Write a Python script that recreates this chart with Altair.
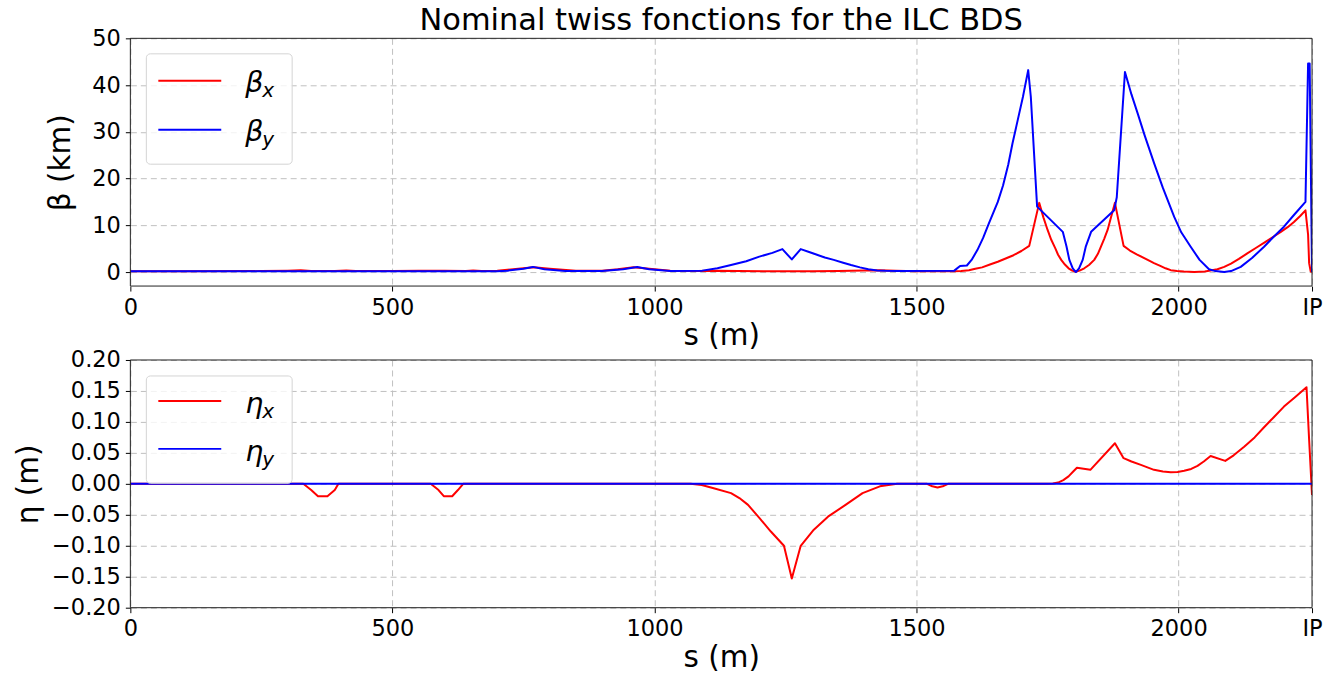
import altair as alt
import pandas as pd

FONT = "DejaVu Sans"
RED = "#ff0000"
BLUE = "#0000ff"
S_IP = 2254.5  # interaction point, end of the beam delivery system (m)

# Horizontal beta function (km) along s (m)
betx_s = [0, 100, 250, 300, 325, 345, 390, 412, 430, 500, 550, 600, 640, 654, 670,
          700, 740, 770, 800, 850, 900, 930, 960, 990, 1030, 1080, 1120, 1160, 1250,
          1300, 1350, 1400, 1430, 1460, 1500, 1572, 1585, 1600, 1612, 1625, 1640, 1655,
          1670, 1685, 1700, 1715, 1734, 1742, 1750, 1757, 1765, 1770, 1776, 1783, 1790,
          1797, 1804, 1811, 1820, 1829, 1839, 1846, 1852, 1858, 1864.5, 1871, 1878.5,
          1895, 1907, 1920, 1941, 1953, 1965, 1975, 1985, 1997, 2010, 2030, 2050, 2074,
          2087, 2100, 2115, 2131, 2148, 2165, 2180, 2195, 2208, 2220, 2232, 2242, 2247,
          2249, 2252, 2254.5]
betx_v = [0.15, 0.15, 0.2, 0.3, 0.4, 0.2, 0.2, 0.35, 0.2, 0.2, 0.3, 0.25, 0.2, 0.35, 0.2,
          0.3, 0.7, 1.0, 0.7, 0.25, 0.3, 0.6, 1.0, 0.7, 0.3, 0.2, 0.3, 0.2, 0.15,
          0.15, 0.2, 0.35, 0.4, 0.3, 0.15, 0.15, 0.2, 0.4, 0.7, 1.0, 1.6, 2.2,
          2.9, 3.6, 4.5, 5.6, 14.8, 11.7, 9.0, 6.9, 5.0, 3.7, 2.6, 1.6, 0.8,
          0.3, 0.05, 0.3, 0.8, 1.5, 2.6, 3.9, 5.5, 7.1, 9.0, 11.7, 14.8,
          5.6, 4.6, 3.8, 2.6, 1.9, 1.3, 0.8, 0.4, 0.2, 0.1, 0.0, 0.1, 0.6,
          1.1, 1.8, 2.8, 4.0, 5.2, 6.4, 7.5, 8.6, 9.6, 10.7, 12.0, 13.2, 8.0,
          1.9, 0.1, 0.05]

# Vertical beta function (km) along s (m)
bety_s = [0, 700, 720, 750, 768, 790, 830, 900, 940, 967, 990, 1030, 1091, 1120, 1146,
          1175, 1200, 1225, 1244, 1262, 1279, 1295, 1310, 1325, 1342, 1360, 1375, 1392,
          1408, 1425, 1440, 1463, 1572, 1583, 1596, 1605, 1616, 1627, 1638, 1655, 1665,
          1675, 1683, 1693, 1703, 1713, 1718, 1730, 1779, 1786, 1791.5, 1798, 1804, 1810,
          1817, 1823, 1833, 1877, 1882, 1897.6, 1910, 1922, 1935, 1953.5, 1970, 1991.6,
          2005, 2023, 2040, 2058, 2070, 2087, 2100, 2118.5, 2140, 2163, 2180, 2201, 2220,
          2242, 2247, 2250, 2254.5]
bety_v = [0.15, 0.15, 0.3, 0.7, 1.1, 0.6, 0.2, 0.2, 0.6, 1.1, 0.6, 0.2, 0.3, 0.8, 1.5,
          2.3, 3.3, 4.1, 4.9, 2.7, 4.9, 4.3, 3.7, 3.1, 2.6, 2.0, 1.5, 1.0,
          0.6, 0.35, 0.25, 0.2, 0.3, 1.3, 1.4, 2.6, 4.7, 7.3, 10.4, 15.0, 18.5,
          23.0, 27.5, 32.5, 37.5, 43.2, 37.5, 14.0, 8.6, 5.5, 2.6, 0.8, 0.0, 0.8,
          2.6, 5.5, 8.6, 13.2, 16.0, 42.8, 38.0, 33.9, 29.3, 23.2, 18.0, 11.8,
          8.5, 5.4, 2.6, 0.6, 0.2, 0.0, 0.2, 1.1, 3.0, 5.4, 7.4, 9.7, 12.2,
          15.0, 44.6, 44.6, 0.0]

# Horizontal dispersion (m) along s (m)
etax_s = [0, 330, 345, 358, 376, 390, 397, 573, 588, 598, 614, 625, 635, 1069, 1090,
          1113, 1146, 1162, 1178.5, 1200, 1222, 1247, 1262, 1279, 1304, 1331, 1364.5,
          1397, 1430, 1463, 1520, 1530, 1540, 1550, 1560, 1750, 1760, 1770, 1780, 1790,
          1798, 1806, 1831.6, 1878.5, 1895, 1910, 1928, 1953, 1970, 1985, 1998, 2010.6,
          2024, 2036, 2048, 2061, 2089, 2105, 2125, 2145, 2163, 2182, 2201, 2222, 2244,
          2249, 2254.5]
etax_v = [0, 0, -0.01, -0.02, -0.02, -0.01, 0, 0, -0.01, -0.02, -0.02, -0.01, 0, 0, -0.002,
          -0.007, -0.015, -0.023, -0.034, -0.055, -0.077, -0.10, -0.153, -0.10, -0.074,
          -0.053, -0.034, -0.015, -0.004, 0, 0, -0.004, -0.006, -0.004, 0, 0, 0.0005,
          0.002, 0.006, 0.012, 0.019, 0.026, 0.0226, 0.0656, 0.0414, 0.036, 0.0306,
          0.0226, 0.0198, 0.0188, 0.0192, 0.021, 0.024, 0.029, 0.036, 0.045, 0.037,
          0.046, 0.060, 0.075, 0.0914, 0.108, 0.1247, 0.140, 0.156, 0.071, -0.018]

# Vertical dispersion (m): zero along the whole line
etay_s = [0, S_IP]
etay_v = [0.0, 0.0]

x_ticks = [0, 500, 1000, 1500, 2000, S_IP]
beta_ticks = [0, 10, 20, 30, 40, 50]
eta_ticks = [-0.20, -0.15, -0.10, -0.05, 0.0, 0.05, 0.10, 0.15, 0.20]

W, H = 1183, 248

x_axis = alt.Axis(
    values=x_ticks, format="d", title="s (m)",
    labelExpr="datum.value > 2200 ? 'IP' : datum.label",
    labelFlush=False, labelOverlap=False,
)
x_scale = alt.Scale(domain=[0, S_IP], nice=False, zero=False)


def line_layer(s, v, color, y_scale, y_axis):
    df = pd.DataFrame({"s": s, "v": v})
    return alt.Chart(df).mark_line(
        color=color, strokeWidth=2, strokeJoin="round", clip=True
    ).encode(
        x=alt.X("s:Q", scale=x_scale, axis=x_axis),
        y=alt.Y("v:Q", scale=y_scale, axis=y_axis),
    )


def one_row():
    return pd.DataFrame({"k": [0]})


def frame_layer():
    """Solid box around the plot area, drawn above the dashed grid."""
    return alt.Chart(one_row()).mark_rect(
        fillOpacity=0, stroke="#222222", strokeWidth=1,
    ).encode(x=alt.value(0), x2=alt.value(W), y=alt.value(0), y2=alt.value(H))


def legend_layers(sym, box, rows):
    """Framed legend with a line sample, a symbol and a subscript per entry."""
    layers = [
        alt.Chart(one_row()).mark_rect(
            fill="white", fillOpacity=0.8, stroke="#d4d4d4", strokeWidth=1,
            cornerRadius=4,
        ).encode(x=alt.value(box[0]), x2=alt.value(box[1]),
                 y=alt.value(box[2]), y2=alt.value(box[3]))
    ]
    for sub, color, ly, base in rows:
        layers.append(
            alt.Chart(one_row()).mark_rule(color=color, strokeWidth=2).encode(
                x=alt.value(box[0] + 12), x2=alt.value(box[0] + 75),
                y=alt.value(ly))
        )
        layers.append(
            alt.Chart(one_row()).mark_text(
                text=sym, font=FONT, fontSize=28.5, fontStyle="italic",
                align="left", baseline="alphabetic", color="black",
            ).encode(x=alt.value(box[0] + 99), y=alt.value(base))
        )
        layers.append(
            alt.Chart(one_row()).mark_text(
                text=sub, font=FONT, fontSize=20, fontStyle="italic",
                align="left", baseline="alphabetic", color="black",
            ).encode(x=alt.value(box[0] + 116), y=alt.value(base + 5))
        )
    return layers


beta_scale = alt.Scale(domain=[-3, 50], nice=False, zero=False)
beta_axis = alt.Axis(values=beta_ticks, format="d", title="β (km)", titlePadding=16)

top = alt.layer(
    line_layer(betx_s, betx_v, RED, beta_scale, beta_axis),
    line_layer(bety_s, bety_v, BLUE, beta_scale, beta_axis),
    frame_layer(),
    *legend_layers("β", (16, 162, 15.5, 126),
                   [("x", RED, 42.5, 53.5), ("y", BLUE, 91.5, 102.5)]),
).properties(
    width=W, height=H,
    title=alt.TitleParams("Nominal twiss fonctions for the ILC BDS", fontSize=30.5,
                          fontWeight="normal", font=FONT, color="black",
                          anchor="middle", offset=-9),
)

eta_scale = alt.Scale(domain=[-0.2, 0.2], nice=False, zero=False)
eta_axis = alt.Axis(values=eta_ticks, format=".2f", title="η (m)")

bottom = alt.layer(
    line_layer(etax_s, etax_v, RED, eta_scale, eta_axis),
    line_layer(etay_s, etay_v, BLUE, eta_scale, eta_axis),
    frame_layer(),
    *legend_layers("η", (16, 162, 16, 123.5),
                   [("x", RED, 41, 53.5), ("y", BLUE, 89, 101)]),
).properties(width=W, height=H)

chart = alt.vconcat(top, bottom, spacing=74, bounds="flush").configure_view(
    strokeWidth=0,
).configure_axis(
    labelFont=FONT, labelFontSize=22.5, labelColor="black",
    titleFont=FONT, titleFontSize=29.5, titleFontWeight="normal", titleColor="black",
    domain=False, ticks=True, tickColor="black", tickSize=5, tickWidth=1,
    labelPadding=5, grid=True, gridColor="#c0c0c0", gridDash=[6, 4], gridWidth=1,
).configure_axisX(titlePadding=3).configure_axisY(titlePadding=8).properties(
    background="white",
    padding={"left": 13.5, "top": 5, "right": 5, "bottom": 5},
)

chart.save("out.html", embed_options={"renderer": "svg", "actions": False})
